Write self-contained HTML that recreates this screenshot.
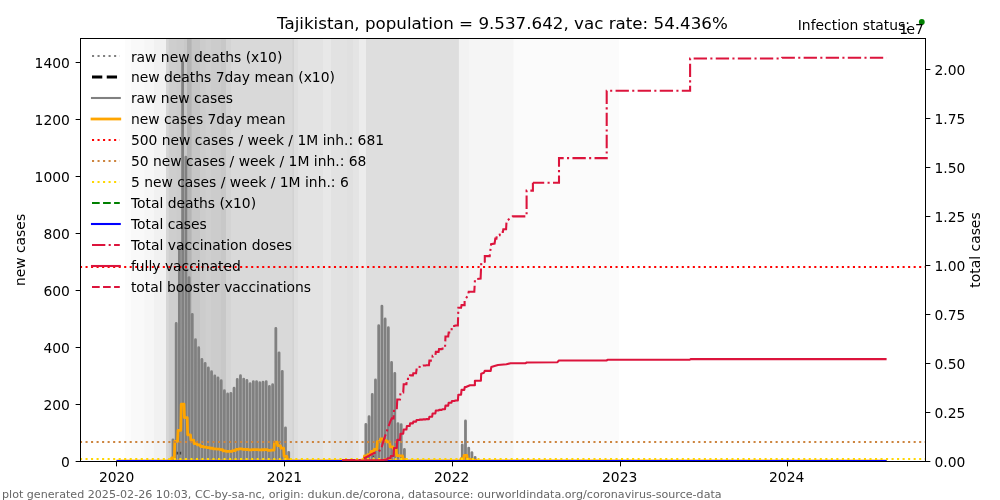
<!DOCTYPE html>
<html><head><meta charset="utf-8"><title>Tajikistan</title>
<style>html,body{margin:0;padding:0;background:#fff}svg{display:block}text{font-family:"DejaVu Sans","Liberation Sans",sans-serif;fill:#000}</style></head><body>
<svg width="1000" height="500" viewBox="0 0 1000 500">
<rect width="1000" height="500" fill="#fff"/>
<clipPath id="c"><rect x="80.5" y="38.5" width="845.0" height="423.0"/></clipPath>
<g clip-path="url(#c)">
<rect x="124.8" y="38.5" width="800.70" height="423.0" fill="#fcfcfc"/>
<rect x="131" y="38.5" width="794.50" height="423.0" fill="#f9f9f9"/>
<rect x="144.5" y="38.5" width="781.00" height="423.0" fill="#f6f6f6"/>
<rect x="154" y="38.5" width="771.50" height="423.0" fill="#f1f1f1"/>
<rect x="166" y="38.5" width="759.50" height="423.0" fill="#d6d6d6"/>
<rect x="168.8" y="38.5" width="756.70" height="423.0" fill="#cecece"/>
<rect x="176.8" y="38.5" width="748.70" height="423.0" fill="#cccccc"/>
<rect x="184" y="38.5" width="741.50" height="423.0" fill="#c8c8c8"/>
<rect x="187" y="38.5" width="738.50" height="423.0" fill="#b4b4b4"/>
<rect x="191.6" y="38.5" width="733.90" height="423.0" fill="#c6c6c6"/>
<rect x="200" y="38.5" width="725.50" height="423.0" fill="#cccccc"/>
<rect x="205.6" y="38.5" width="719.90" height="423.0" fill="#cfcfcf"/>
<rect x="211" y="38.5" width="714.50" height="423.0" fill="#cccccc"/>
<rect x="221" y="38.5" width="704.50" height="423.0" fill="#c8c8c8"/>
<rect x="226" y="38.5" width="699.50" height="423.0" fill="#d4d4d4"/>
<rect x="231" y="38.5" width="694.50" height="423.0" fill="#d9d9d9"/>
<rect x="292.5" y="38.5" width="633.00" height="423.0" fill="#d2d2d2"/>
<rect x="294" y="38.5" width="631.50" height="423.0" fill="#dedede"/>
<rect x="298" y="38.5" width="627.50" height="423.0" fill="#e3e3e3"/>
<rect x="323" y="38.5" width="602.50" height="423.0" fill="#e8e8e8"/>
<rect x="331" y="38.5" width="594.50" height="423.0" fill="#e2e2e2"/>
<rect x="347" y="38.5" width="578.50" height="423.0" fill="#e0e0e0"/>
<rect x="353" y="38.5" width="572.50" height="423.0" fill="#e4e4e4"/>
<rect x="359" y="38.5" width="566.50" height="423.0" fill="#ececec"/>
<rect x="366" y="38.5" width="559.50" height="423.0" fill="#dedede"/>
<rect x="458.9" y="38.5" width="466.60" height="423.0" fill="#f2f2f2"/>
<rect x="469.2" y="38.5" width="456.30" height="423.0" fill="#f5f5f5"/>
<rect x="513.5" y="38.5" width="412.00" height="423.0" fill="#fbfbfb"/>
<rect x="619" y="38.5" width="306.50" height="423.0" fill="#ffffff"/>
<path d="M169.77 463.5V459.45M172.98 463.5V439.78M176.20 463.5V323.46M179.41 463.5V246.76M182.62 463.5V62.30M185.84 463.5V157.24M189.05 463.5V277.56M192.27 463.5V314.33M195.48 463.5V339.71M198.70 463.5V347.69M201.91 463.5V359.38M205.13 463.5V363.37M208.34 463.5V367.93M211.55 463.5V371.64M214.77 463.5V375.91M217.98 463.5V377.91M221.20 463.5V380.76M224.41 463.5V390.74M227.63 463.5V393.88M230.84 463.5V393.31M234.06 463.5V388.17M237.27 463.5V379.34M240.48 463.5V375.63M243.70 463.5V379.05M246.91 463.5V380.48M250.13 463.5V383.61M253.34 463.5V381.62M256.56 463.5V381.62M259.77 463.5V382.76M262.98 463.5V382.19M266.20 463.5V381.62M269.41 463.5V386.46M272.63 463.5V384.75M275.84 463.5V328.30M279.06 463.5V352.82M282.27 463.5V371.35M285.49 463.5V427.80M288.70 463.5V452.32M365.85 463.5V424.38M369.06 463.5V416.68M372.27 463.5V394.45M375.49 463.5V379.91M378.70 463.5V325.74M381.92 463.5V306.07M385.13 463.5V318.89M388.35 463.5V327.73M391.56 463.5V362.51M394.78 463.5V373.35M397.99 463.5V423.53M401.20 463.5V424.67M404.42 463.5V449.47M462.28 463.5V444.91M465.49 463.5V420.96M468.71 463.5V448.05M471.92 463.5V452.61M475.14 463.5V457.45" fill="none" stroke="#808080" stroke-width="2.8" stroke-linecap="round"/>
<polyline points="116.50,461.50 167.93,461.20 168.39,460.79 171.14,460.79 171.60,457.98 174.36,457.98 174.82,441.37 177.57,441.37 178.03,430.41 180.79,430.41 181.25,404.06 184.00,404.06 184.46,417.62 187.22,417.62 187.68,434.81 190.43,434.81 190.89,440.06 193.65,440.06 194.10,443.69 196.86,443.69 197.32,444.83 200.07,444.83 200.53,446.50 203.29,446.50 203.75,447.07 206.50,447.07 206.96,447.72 209.72,447.72 210.18,448.25 212.93,448.25 213.39,448.86 216.15,448.86 216.61,449.14 219.36,449.14 219.82,449.55 222.58,449.55 223.03,450.98 225.79,450.98 226.25,451.43 229.00,451.43 229.46,451.34 232.22,451.34 232.68,450.61 235.43,450.61 235.89,449.35 238.65,449.35 239.11,448.82 241.86,448.82 242.32,449.31 245.08,449.31 245.54,449.51 248.29,449.51 248.75,449.96 251.50,449.96 251.96,449.67 254.72,449.67 255.18,449.67 257.93,449.67 258.39,449.84 261.15,449.84 261.61,449.76 264.36,449.76 264.82,449.67 267.58,449.67 268.04,450.37 270.79,450.37 271.25,450.12 274.01,450.12 274.46,442.06 277.22,442.06 277.68,445.56 280.43,445.56 280.89,448.21 283.65,448.21 284.11,456.27 286.86,456.27 287.32,459.77 290.08,459.77 290.54,461.20 293.29,461.20 293.75,461.20 296.51,461.20 296.97,461.20 299.72,461.20 300.18,461.20 302.94,461.20 303.39,461.20 306.15,461.20 306.61,461.20 309.36,461.20 309.82,461.20 312.58,461.20 313.04,461.20 315.79,461.20 316.25,461.20 319.01,461.20 319.47,461.20 322.22,461.20 322.68,461.20 325.44,461.20 325.90,461.20 328.65,461.20 329.11,461.20 331.86,461.20 332.32,461.20 335.08,461.20 335.54,461.20 338.29,461.20 338.75,461.20 341.51,461.20 341.97,461.20 344.72,461.20 345.18,461.20 347.94,461.20 348.40,461.20 351.15,461.20 351.61,461.20 354.37,461.20 354.82,461.20 357.58,461.20 358.04,461.20 360.79,461.20 361.25,461.20 364.01,461.20 364.47,455.78 367.22,455.78 367.68,454.68 370.44,454.68 370.90,451.51 373.65,451.51 374.11,449.43 376.87,449.43 377.33,441.69 380.08,441.69 380.54,438.88 383.30,438.88 383.75,440.71 386.51,440.71 386.97,441.98 389.72,441.98 390.18,446.94 392.94,446.94 393.40,448.49 396.15,448.49 396.61,455.66 399.37,455.66 399.83,455.82 402.58,455.82 403.04,459.37 405.80,459.37 406.26,461.20 409.01,461.20 409.47,461.20 412.22,461.20 412.68,461.20 415.44,461.20 415.90,461.20 418.65,461.20 419.11,461.20 421.87,461.20 422.33,461.20 425.08,461.20 425.54,461.20 428.30,461.20 428.76,461.20 431.51,461.20 431.97,461.20 434.73,461.20 435.18,461.20 437.94,461.20 438.40,461.20 441.15,461.20 441.61,461.20 444.37,461.20 444.83,461.20 447.58,461.20 448.04,461.20 450.80,461.20 451.26,461.20 454.01,461.20 454.47,461.20 457.23,461.20 457.69,461.20 460.44,461.20 460.90,458.72 463.66,458.72 464.11,455.29 466.87,455.29 467.33,459.16 470.08,459.16 470.54,459.82 473.30,459.82 473.76,460.51 476.51,460.51 476.97,461.20 886.60,461.50" fill="none" stroke="#ffa500" stroke-width="2.78" stroke-linejoin="round"/>
<path d="M177.4 451.7V454.4M180.5 451.7V454.4M373.4 455.4V457" stroke="#222" stroke-opacity="0.7" stroke-width="1.4" fill="none"/>
<path d="M116.5 459.5H886.6" stroke="#ffa500" stroke-opacity="0.4" stroke-width="1" fill="none"/>
<path d="M80.0 267H925.5" stroke="#ff0000" stroke-width="2" stroke-dasharray="2.0833 3.4374" fill="none"/>
<path d="M80.0 442H925.5" stroke="#cd853f" stroke-width="2" stroke-dasharray="2.0833 3.4374" fill="none"/>
<path d="M80.0 459H925.5" stroke="#ffd700" stroke-width="2" stroke-dasharray="2.0833 3.4374" fill="none"/>
</g>
<g clip-path="url(#c)">
<path d="M116.5 460.7H886.6" stroke="#0000ff" stroke-width="1.6" fill="none"/>
<polyline points="342.00,460.40 360.00,460.00 363.80,458.50 374.20,453.00 377.80,451.80 381.00,449.80 383.80,439.80 385.80,434.00 390.20,421.80 391.80,418.40 393.58,418.40 394.04,409.35 396.79,409.35 397.25,399.48 400.01,399.48 400.47,392.42 403.22,392.42 403.68,384.22 406.44,384.22 406.90,378.89 409.65,378.89 410.11,375.35 412.87,375.35 413.32,373.21 416.08,373.21 416.54,369.53 419.29,369.53 419.75,365.59 422.51,365.59 422.97,365.46 425.72,365.46 426.18,365.32 428.94,365.32 429.40,360.63 432.15,360.63 432.61,355.88 435.37,355.88 435.83,351.87 438.58,351.87 439.04,349.12 441.80,349.12 442.25,348.66 445.01,348.66 445.47,336.46 448.22,336.46 448.68,332.44 451.44,332.44 451.90,326.08 454.65,326.08 455.11,325.55 457.87,325.55 458.33,307.82 461.08,307.82 461.54,305.14 464.60,305.14 464.60,300.20 468.00,295.60 468.70,291.80 474.30,291.80 475.00,279.20 480.60,278.50 481.30,262.40 484.80,261.70 484.80,256.10 489.70,256.10 491.10,244.20 494.60,243.50 495.30,238.60 496.44,238.60 496.90,235.12 499.65,235.12 500.11,231.99 502.87,231.99 503.33,229.29 506.08,229.29 506.54,220.90 506.80,220.90 506.80,220.90 512.50,216.40 526.60,216.40 526.60,190.60 532.90,190.60 532.90,182.80" fill="none" stroke="#dc143c" stroke-width="2.0833" stroke-dasharray="13.333 3.333 2.083 3.333"/>
<polyline points="532.90,182.80 559.00,182.80 559.00,158.10 606.70,158.10 606.70,90.80 690.10,90.80 690.10,58.50 781.50,58.50 782.00,57.70 886.60,57.70" fill="none" stroke="#dc143c" stroke-width="2.0833" stroke-dasharray="13.333 3.333 2.083 3.333" stroke-dashoffset="2.0"/>
<polyline points="342.00,460.60 342.15,460.60 342.61,460.58 345.36,460.58 345.82,460.56 348.58,460.56 349.04,460.53 351.79,460.53 352.25,460.51 355.01,460.51 355.47,460.48 358.22,460.48 358.68,460.46 361.44,460.46 361.89,460.43 364.65,460.43 365.11,460.40 367.86,460.40 368.32,460.38 371.08,460.38 371.54,460.35 374.29,460.35 374.75,460.33 377.51,460.33 377.97,460.30 380.72,460.30 381.18,459.99 383.94,459.99 384.40,459.62 387.15,459.62 387.61,458.33 390.36,458.33 390.82,456.02 393.58,456.02 394.04,448.06 396.79,448.06 397.25,439.88 400.01,439.88 400.47,433.74 403.22,433.74 403.68,429.52 406.44,429.52 406.90,425.96 409.65,425.96 410.11,423.38 412.87,423.38 413.32,421.66 416.08,421.66 416.54,419.94 419.29,419.94 419.75,419.59 422.51,419.59 422.97,419.36 425.72,419.36 426.18,419.13 428.94,419.13 429.40,416.70 432.15,416.70 432.61,413.42 435.37,413.42 435.83,410.53 438.58,410.53 439.04,409.88 441.80,409.88 442.25,409.23 445.01,409.23 445.47,405.60 448.22,405.60 448.68,402.73 451.44,402.73 451.90,400.99 454.65,400.99 455.11,400.53 457.87,400.53 458.33,394.69 461.08,394.69 461.54,389.85 464.30,389.85 464.76,387.00 466.00,387.00 466.00,387.00 470.00,385.30 474.90,385.30 474.90,380.70 480.90,380.70 481.20,373.70 484.00,372.70 484.70,370.90 490.70,370.90 491.30,367.10 494.50,366.10 498.00,365.00 506.40,364.30 510.60,363.30 525.30,363.30 526.70,362.50 557.50,362.20 558.90,360.50 606.50,360.50 607.90,359.70 690.00,359.70 690.50,359.10 886.60,359.10" fill="none" stroke="#dc143c" stroke-width="2.0833" stroke-linejoin="round"/>
</g>
<rect x="80.5" y="38.5" width="845.0" height="423.0" fill="none" stroke="#000" stroke-width="1"/>
<text x="69.90" y="466.80" font-size="13.89" text-anchor="end">0</text>
<text x="69.90" y="409.80" font-size="13.89" text-anchor="end">200</text>
<text x="69.90" y="352.80" font-size="13.89" text-anchor="end">400</text>
<text x="69.90" y="295.80" font-size="13.89" text-anchor="end">600</text>
<text x="69.90" y="238.80" font-size="13.89" text-anchor="end">800</text>
<text x="69.90" y="181.80" font-size="13.89" text-anchor="end">1000</text>
<text x="69.90" y="124.80" font-size="13.89" text-anchor="end">1200</text>
<text x="69.90" y="67.80" font-size="13.89" text-anchor="end">1400</text>
<text x="934.40" y="466.80" font-size="13.89">0.00</text>
<text x="934.40" y="417.80" font-size="13.89">0.25</text>
<text x="934.40" y="368.80" font-size="13.89">0.50</text>
<text x="934.40" y="319.80" font-size="13.89">0.75</text>
<text x="934.40" y="270.80" font-size="13.89">1.00</text>
<text x="934.40" y="221.80" font-size="13.89">1.25</text>
<text x="934.40" y="172.80" font-size="13.89">1.50</text>
<text x="934.40" y="123.80" font-size="13.89">1.75</text>
<text x="934.40" y="74.80" font-size="13.89">2.00</text>
<text x="116.60" y="481.80" font-size="13.89" text-anchor="middle">2020</text>
<text x="284.50" y="481.80" font-size="13.89" text-anchor="middle">2021</text>
<text x="451.70" y="481.80" font-size="13.89" text-anchor="middle">2022</text>
<text x="619.70" y="481.80" font-size="13.89" text-anchor="middle">2023</text>
<text x="786.70" y="481.80" font-size="13.89" text-anchor="middle">2024</text>
<path d="M80.5 461.50h-4.86M80.5 404.50h-4.86M80.5 347.50h-4.86M80.5 290.50h-4.86M80.5 233.50h-4.86M80.5 176.50h-4.86M80.5 119.50h-4.86M80.5 62.50h-4.86M925.5 461.50h4.86M925.5 412.50h4.86M925.5 363.50h4.86M925.5 314.50h4.86M925.5 265.50h4.86M925.5 216.50h4.86M925.5 167.50h4.86M925.5 118.50h4.86M925.5 69.50h4.86M116.50 461.5v4.86M284.50 461.5v4.86M452.50 461.5v4.86M620.50 461.5v4.86M787.50 461.5v4.86" stroke="#000" stroke-width="1" fill="none"/>
<text x="502.4" y="28.8" font-size="16.72" text-anchor="middle">Tajikistan, population = 9.537.642, vac rate: 54.436%</text>
<text x="910" y="29.7" font-size="13.89" text-anchor="end">Infection status:</text>
<circle cx="921.8" cy="22" r="2.9" fill="#008000"/>
<text x="923.9" y="33.6" font-size="13.89" text-anchor="end" dx="0 -1.5 0">1e7</text>
<text transform="translate(24.9 250.0) rotate(-90)" font-size="13.89" text-anchor="middle">new cases</text>
<text transform="translate(980.3 250.0) rotate(-90)" font-size="13.89" text-anchor="middle">total cases</text>
<text x="2" y="498.2" font-size="11.11" style="fill:#666">plot generated 2025-02-26 10:03, CC-by-sa-nc, origin: dukun.de/corona, datasource: ourworldindata.org/coronavirus-source-data</text>
<path d="M92 56.00h27.78" stroke="#808080" stroke-width="2.0833" stroke-dasharray="2.0833 3.4374" fill="none"/>
<text x="130.9" y="61.80" font-size="13.89">raw new deaths (x10)</text>
<path d="M92 77.00h27.78" stroke="#000000" stroke-width="2.78" stroke-dasharray="10.29 4.45" fill="none"/>
<text x="130.9" y="81.90" font-size="13.89">new deaths 7day mean (x10)</text>
<path d="M92 98.00h27.78" stroke="#808080" stroke-width="2.0833" stroke-linecap="square" fill="none"/>
<text x="130.9" y="102.90" font-size="13.89">raw new cases</text>
<path d="M92 119.00h27.78" stroke="#ffa500" stroke-width="2.78" stroke-linecap="square" fill="none"/>
<text x="130.9" y="123.90" font-size="13.89">new cases 7day mean</text>
<path d="M92 140.00h27.78" stroke="#ff0000" stroke-width="2.0833" stroke-dasharray="2.0833 3.4374" fill="none"/>
<text x="130.9" y="144.90" font-size="13.89">500 new cases / week / 1M inh.: 681</text>
<path d="M92 161.00h27.78" stroke="#cd853f" stroke-width="2.0833" stroke-dasharray="2.0833 3.4374" fill="none"/>
<text x="130.9" y="165.90" font-size="13.89">50 new cases / week / 1M inh.: 68</text>
<path d="M92 182.00h27.78" stroke="#ffd700" stroke-width="2.0833" stroke-dasharray="2.0833 3.4374" fill="none"/>
<text x="130.9" y="186.90" font-size="13.89">5 new cases / week / 1M inh.: 6</text>
<path d="M92 203.00h27.78" stroke="#008000" stroke-width="2.0833" stroke-dasharray="7.71 3.33" fill="none"/>
<text x="130.9" y="208.30" font-size="13.89">Total deaths (x10)</text>
<path d="M92 224.00h27.78" stroke="#0000ff" stroke-width="2.0833" stroke-linecap="square" fill="none"/>
<text x="130.9" y="228.90" font-size="13.89">Total cases</text>
<path d="M92 245.00h27.78" stroke="#dc143c" stroke-width="2.0833" stroke-dasharray="13.33 3.33 2.08 3.33" fill="none"/>
<text x="130.9" y="249.90" font-size="13.89">Total vaccination doses</text>
<path d="M92 266.00h27.78" stroke="#dc143c" stroke-width="2.0833" stroke-linecap="square" fill="none"/>
<text x="130.9" y="270.90" font-size="13.89">fully vaccinated</text>
<path d="M92 287.00h27.78" stroke="#dc143c" stroke-width="2.0833" stroke-dasharray="7.71 3.33" fill="none"/>
<text x="130.9" y="291.90" font-size="13.89">total booster vaccinations</text>
</svg></body></html>
